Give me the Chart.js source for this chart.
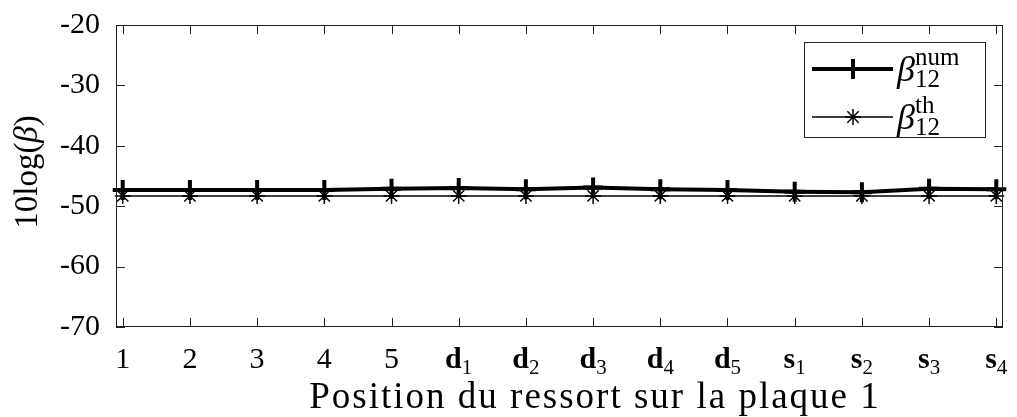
<!DOCTYPE html>
<html lang="fr">
<head>
  <meta charset="UTF-8">
  <title>Position du ressort sur la plaque 1</title>
  <script src="https://cdn.jsdelivr.net/npm/chart.js"></script>
  <style>
    html, body { margin: 0; padding: 0; background: #fff; }
  </style>
</head>
<body>
  <canvas id="betaChart" width="1017" height="417"></canvas>

  <script>
    // positions du ressort (1..14) et leurs etiquettes
    const positions = [1, 2, 3, 4, 5, 6, 7, 8, 9, 10, 11, 12, 13, 14];
    const xLabels = ['1', '2', '3', '4', '5', 'd_1', 'd_2', 'd_3', 'd_4', 'd_5', 's_1', 's_2', 's_3', 's_4'];

    // 10log(beta) numerique et theorique
    const betaNum = [-47.3, -47.3, -47.3, -47.3, -47.1, -47.0, -47.2, -46.9, -47.2, -47.3, -47.6, -47.7, -47.1, -47.2];
    const betaTh = [-48.3, -48.3, -48.3, -48.3, -48.3, -48.3, -48.3, -48.3, -48.3, -48.3, -48.3, -48.3, -48.3, -48.3];

    const yTicks = [-70, -60, -50, -40, -30, -20];
    const xTitle = 'Position du ressort sur la plaque 1';

    const serif = '"Liberation Serif", "DejaVu Serif", serif';
    const axisColor = '#222';

    function toPoints(vals) {
      return positions.map((p, i) => ({ x: p, y: vals[i] }));
    }

    // cadre, graduations interieures, etiquettes et legende facon MATLAB
    const matlabAxes = {
      id: 'matlabAxes',
      afterDraw(chart) {
        const ctx = chart.ctx;
        const a = chart.chartArea;
        const xs = chart.scales.x;
        const ys = chart.scales.y;
        const tick = 9;

        ctx.save();
        ctx.strokeStyle = axisColor;
        ctx.lineWidth = 1;
        ctx.strokeRect(a.left + 0.5, a.top + 0.5, a.right - a.left - 1, a.bottom - a.top - 1);

        ctx.beginPath();
        yTicks.forEach(v => {
          const y = Math.round(ys.getPixelForValue(v)) + 0.5;
          ctx.moveTo(a.left, y); ctx.lineTo(a.left + tick, y);
          ctx.moveTo(a.right, y); ctx.lineTo(a.right - tick, y);
        });
        positions.forEach(p => {
          const x = Math.round(xs.getPixelForValue(p)) + 0.5;
          ctx.moveTo(x, a.bottom); ctx.lineTo(x, a.bottom - tick);
          ctx.moveTo(x, a.top); ctx.lineTo(x, a.top + tick);
        });
        ctx.stroke();

        // etiquettes de l'axe x (lettre en gras + indice)
        ctx.fillStyle = '#000';
        ctx.textBaseline = 'alphabetic';
        ctx.textAlign = 'left';
        positions.forEach((p, i) => {
          const x = xs.getPixelForValue(p);
          const parts = xLabels[i].split('_');
          if (parts.length === 1) {
            ctx.font = '30px ' + serif;
            const w = ctx.measureText(parts[0]).width;
            ctx.fillText(parts[0], x - w / 2, 368);
          } else {
            ctx.font = 'bold 30px ' + serif;
            const w1 = ctx.measureText(parts[0]).width;
            ctx.font = '21px ' + serif;
            const w2 = ctx.measureText(parts[1]).width;
            const x0 = x - (w1 + w2) / 2;
            ctx.font = 'bold 30px ' + serif;
            ctx.fillText(parts[0], x0, 368);
            ctx.font = '21px ' + serif;
            ctx.fillText(parts[1], x0 + w1, 374);
          }
        });

        // titre de l'axe x
        ctx.save();
        ctx.font = '37px ' + serif;
        ctx.letterSpacing = '2px';
        ctx.textAlign = 'center';
        ctx.fillText(xTitle, 595, 408);
        ctx.restore();

        // titre de l'axe y : 10log(β)
        ctx.save();
        ctx.translate(37, 172);
        ctx.rotate(-Math.PI / 2);
        ctx.textAlign = 'left';
        const pieces = [['10log(', '33px '], ['β', 'italic 33px '], [')', '33px ']];
        let total = 0;
        pieces.forEach(pc => { ctx.font = pc[1] + serif; total += ctx.measureText(pc[0]).width; });
        let cx = -total / 2;
        pieces.forEach(pc => {
          ctx.font = pc[1] + serif;
          ctx.fillText(pc[0], cx, 0);
          cx += ctx.measureText(pc[0]).width;
        });
        ctx.restore();

        // legende
        const lx = 804, ly = 42, lw = 181, lh = 95;
        ctx.fillStyle = '#fff';
        ctx.fillRect(lx, ly, lw, lh);
        ctx.strokeStyle = axisColor;
        ctx.lineWidth = 1;
        ctx.strokeRect(lx + 0.5, ly + 0.5, lw, lh);

        const rows = [
          { y: 69, sup: 'num', ds: chart.data.datasets[0] },
          { y: 117, sup: 'th', ds: chart.data.datasets[1] }
        ];
        rows.forEach(r => {
          ctx.strokeStyle = '#000';
          ctx.lineWidth = r.ds.borderWidth;
          ctx.beginPath();
          ctx.moveTo(812, r.y); ctx.lineTo(893, r.y);
          ctx.stroke();
          ctx.lineWidth = r.ds.pointBorderWidth;
          ctx.beginPath();
          const rad = r.ds.pointRadius;
          if (r.ds.pointStyle === 'cross') {
            ctx.moveTo(853, r.y - rad); ctx.lineTo(853, r.y + rad);
            ctx.moveTo(853 - rad, r.y); ctx.lineTo(853 + rad, r.y);
          } else {
            for (let k = 0; k < 4; k++) {
              const ang = k * Math.PI / 4;
              ctx.moveTo(853 - rad * Math.cos(ang), r.y - rad * Math.sin(ang));
              ctx.lineTo(853 + rad * Math.cos(ang), r.y + rad * Math.sin(ang));
            }
          }
          ctx.stroke();

          ctx.fillStyle = '#000';
          ctx.textAlign = 'left';
          ctx.font = 'italic 36px ' + serif;
          ctx.fillText('β', 897, r.y + 12);
          ctx.font = '25px ' + serif;
          ctx.fillText(r.sup, 915, r.y - 4);
          ctx.fillText('12', 915, r.y + 18);
        });
        ctx.restore();
      }
    };

    const ctx = document.getElementById('betaChart').getContext('2d');
    new Chart(ctx, {
      type: 'line',
      data: {
        datasets: [
          {
            label: 'beta12 num',
            data: toPoints(betaNum),
            borderColor: '#000',
            backgroundColor: '#000',
            borderWidth: 4,
            pointStyle: 'cross',
            pointRadius: 10,
            pointBorderWidth: 4,
            pointBorderColor: '#000',
            tension: 0,
            clip: false
          },
          {
            label: 'beta12 th',
            data: toPoints(betaTh),
            borderColor: '#000',
            backgroundColor: '#000',
            borderWidth: 1.5,
            pointStyle: 'star',
            pointRadius: 8,
            pointBorderWidth: 1.5,
            pointBorderColor: '#000',
            tension: 0,
            clip: false
          }
        ]
      },
      options: {
        responsive: false,
        animation: false,
        layout: { padding: { top: 25, right: 10, left: 0, bottom: 0 } },
        plugins: {
          legend: { display: false },
          tooltip: { enabled: false }
        },
        scales: {
          x: {
            type: 'linear',
            min: 0.9,
            max: 14.1,
            ticks: { display: false },
            grid: { display: false, drawTicks: false },
            border: { display: false },
            afterFit: s => { s.height = 90; s.paddingLeft = 0; s.paddingRight = 0; }
          },
          y: {
            min: -70,
            max: -20,
            ticks: {
              stepSize: 10,
              padding: 16,
              color: '#000',
              font: { family: serif, size: 30 },
              callback: v => String(v)
            },
            grid: { display: false, drawTicks: false },
            border: { display: false },
            afterFit: s => { s.width = 116; s.paddingTop = 0; s.paddingBottom = 0; }
          }
        }
      },
      plugins: [matlabAxes]
    });
  </script>
</body>
</html>
